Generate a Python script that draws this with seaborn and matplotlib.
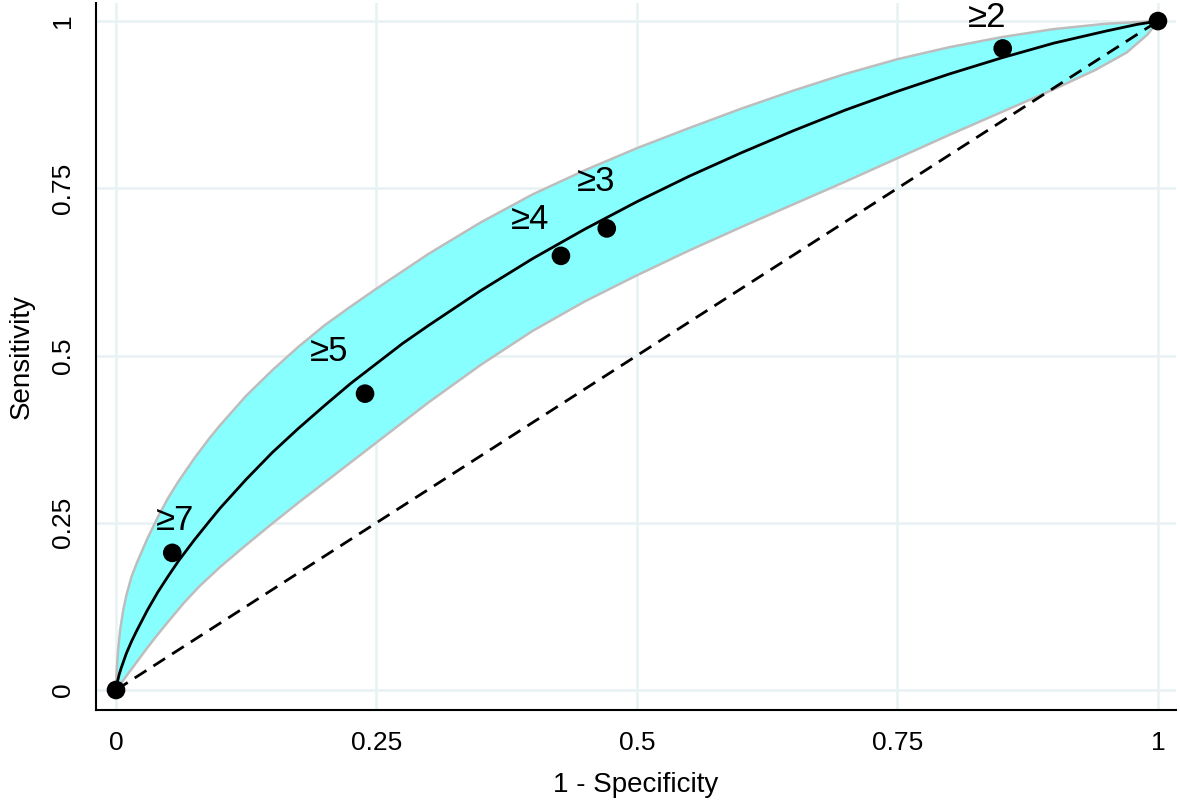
import numpy as np
import pandas as pd
import matplotlib
matplotlib.use("Agg")
import matplotlib.pyplot as plt
import seaborn as sns

# observed operating points (1 - specificity, sensitivity)
fpr = [0.0, 0.054, 0.239, 0.427, 0.471, 0.851, 1.0]
tpr = [0.0, 0.205, 0.443, 0.649, 0.690, 0.959, 1.0]
cut_labels = ["", "\u22657", "\u22655", "\u22654", "\u22653", "\u22652", ""]

# fitted ROC curve
roc_x = [0, 0.001, 0.003, 0.005, 0.01, 0.015, 0.02, 0.03, 0.04, 0.05, 0.06, 0.075,
         0.09, 0.1, 0.125, 0.15, 0.175, 0.2, 0.225, 0.25, 0.275, 0.3, 0.35, 0.4,
         0.45, 0.5, 0.55, 0.6, 0.65, 0.7, 0.75, 0.8, 0.85, 0.9, 0.95, 0.98, 1.0]
roc_y = [0, 0.010, 0.023, 0.033, 0.055, 0.073, 0.089, 0.119, 0.146, 0.170, 0.193, 0.224,
         0.253, 0.272, 0.315, 0.355, 0.391, 0.425, 0.458, 0.488, 0.518, 0.545, 0.597, 0.645,
         0.689, 0.730, 0.768, 0.803, 0.836, 0.867, 0.895, 0.921, 0.945, 0.967, 0.985, 0.995, 1.0]

# confidence band edges
up_x = [0, 0.0005, 0.002, 0.004, 0.007, 0.01, 0.015, 0.02, 0.03, 0.04, 0.05, 0.06,
        0.075, 0.09, 0.1, 0.125, 0.15, 0.175, 0.2, 0.225, 0.25, 0.3, 0.35, 0.4, 0.45,
        0.5, 0.55, 0.6, 0.65, 0.7, 0.75, 0.8, 0.85, 0.9, 0.95, 1.0]
up_y = [0, 0.025, 0.06, 0.09, 0.12, 0.142, 0.17, 0.19, 0.226, 0.258, 0.287, 0.312,
        0.346, 0.377, 0.396, 0.440, 0.478, 0.513, 0.545, 0.573, 0.600, 0.652, 0.699, 0.741, 0.777,
        0.810, 0.840, 0.869, 0.896, 0.921, 0.943, 0.961, 0.976, 0.988, 0.996, 1.0]
lo_x = [0, 0.01, 0.02, 0.03, 0.04, 0.05, 0.065, 0.08, 0.1, 0.125, 0.15, 0.175, 0.2,
        0.25, 0.3, 0.35, 0.4, 0.45, 0.5, 0.55, 0.6, 0.65, 0.7, 0.75, 0.8, 0.85, 0.9,
        0.94, 0.97, 0.99, 1.0]
lo_y = [0, 0.021, 0.042, 0.063, 0.083, 0.102, 0.130, 0.155, 0.184, 0.217, 0.249, 0.280, 0.310,
        0.370, 0.430, 0.486, 0.537, 0.581, 0.620, 0.657, 0.692, 0.726, 0.760, 0.795, 0.830, 0.864, 0.898,
        0.927, 0.953, 0.980, 1.0]

ticks = [0, 0.25, 0.5, 0.75, 1]
tick_labels = ["0", "0.25", "0.5", "0.75", "1"]

# label offsets from their point, in points (dx, dy)
lab_off = [(0, 0), (2, 23), (-26, 30), (-22, 26), (-8, 34), (-11, 22), (0, 0)]

sns.set_style("white")
plt.rcParams['font.family'] = ['Liberation Sans', 'DejaVu Sans']
plt.rcParams['text.color'] = 'black'
plt.rcParams['axes.labelcolor'] = 'black'
plt.rcParams['xtick.color'] = 'black'
plt.rcParams['ytick.color'] = 'black'

fig = plt.figure(figsize=(11.8, 8.05), dpi=100)
ax = fig.add_axes([96/1180, 95/805, (1176-96)/1180, (805-95-3)/805])

grid_c = "#e8f1f3"
for t in ticks:
    ax.axvline(t, color=grid_c, lw=1.8, zorder=0)
    ax.axhline(t, color=grid_c, lw=1.8, zorder=0)

# band
poly_x = list(up_x) + list(lo_x[::-1])
poly_y = list(up_y) + list(lo_y[::-1])
ax.fill(poly_x, poly_y, facecolor="#88ffff", edgecolor="none", zorder=1)
ax.plot(up_x, up_y, color="#bdbdbd", lw=1.8, zorder=2)
ax.plot(lo_x, lo_y, color="#bdbdbd", lw=1.8, zorder=2)

# chance line
ax.plot([0, 1], [0, 1], color="black", lw=2, ls=(0, (5, 3)), zorder=3)

roc = pd.DataFrame({"x": roc_x, "y": roc_y})
sns.lineplot(data=roc, x="x", y="y", color="black", lw=2, sort=False, ax=ax, zorder=4)

pts = pd.DataFrame({"fpr": fpr, "tpr": tpr})
sns.scatterplot(data=pts, x="fpr", y="tpr", color="black", s=180, edgecolor="none",
                ax=ax, zorder=5)

for xi, yi, lab, off in zip(fpr, tpr, cut_labels, lab_off):
    if lab:
        ax.annotate(lab, (xi, yi), xytext=off, textcoords="offset points",
                    ha="center", va="center", fontsize=25)

ax.set_xlim(-0.0192, 1.0173)
ax.set_ylim(-0.0299, 1.027)
ax.set_xticks(ticks)
ax.set_xticklabels(tick_labels, fontsize=19)
ax.set_yticks(ticks)
ax.set_yticklabels(tick_labels, fontsize=19, rotation=90, va="center")
ax.tick_params(axis="both", direction="out", length=8, width=1.5, color="black", pad=7)
ax.set_xlabel("1 - Specificity", fontsize=20, labelpad=12)
ax.set_ylabel("Sensitivity", fontsize=20, labelpad=12)

for side in ["top", "right"]:
    ax.spines[side].set_visible(False)
for side in ["left", "bottom"]:
    ax.spines[side].set_color("black")
    ax.spines[side].set_linewidth(1.5)

fig.savefig("out.png", dpi=100)
